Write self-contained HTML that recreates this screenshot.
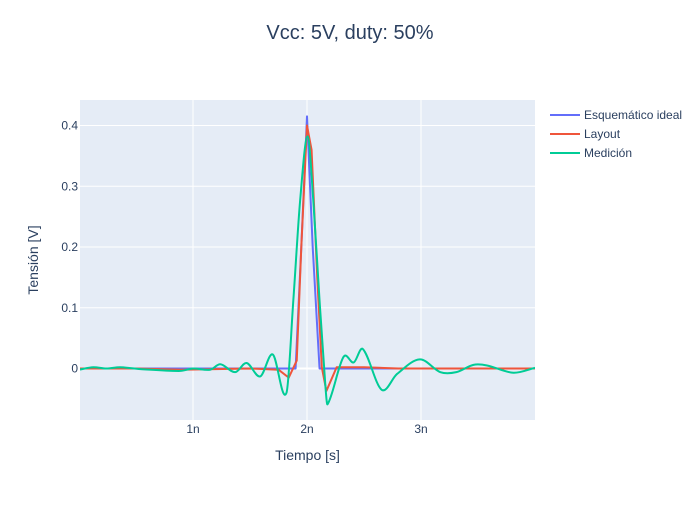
<!DOCTYPE html>
<html><head><meta charset="utf-8"><style>
body{margin:0;background:#fff}
svg{font-family:"Liberation Sans",sans-serif}
</style></head><body>
<svg id="c" width="700" height="500"></svg>
<script>
const tIdeal=[0,1.90,1.95,2.0,2.05,2.11,4.0];
const vIdeal=[0,0,0.2,0.415,0.2,0,0];
const tLayout=[0,0.5,0.89,1.5,1.75,1.84,1.91,1.95,2.0,2.04,2.09,2.13,2.17,2.26,2.5,2.8,4.0];
const vLayout=[0,0,-0.002,0,-0.002,-0.015,0.013,0.2,0.40,0.36,0.15,0.002,-0.037,0.002,0.002,0,0];
const tMeas=[0,0.125,0.24,0.36,0.54,0.89,1.0,1.15,1.24,1.37,1.47,1.59,1.70,1.82,1.88,1.94,2.005,2.055,2.11,2.16,2.18,2.32,2.41,2.49,2.655,2.79,2.99,3.17,3.31,3.46,3.58,3.81,4.0];
const vMeas=[-0.002,0.002,0,0.002,-0.001,-0.004,0,-0.002,0.007,-0.006,0.009,-0.013,0.023,-0.040,0.112,0.277,0.382,0.277,0.112,-0.025,-0.059,0.019,0.010,0.032,-0.035,-0.009,0.015,-0.006,-0.006,0.006,0.005,-0.007,0.001];
const xTicks=[1,2,3], xTickLabels=["1n","2n","3n"];
const yTicks=[0,0.1,0.2,0.3,0.4], yTickLabels=["0","0.1","0.2","0.3","0.4"];
const seriesNames=["Esquemático ideal","Layout","Medición"];
const colors=["#636efa","#EF553B","#00cc96"];

const L=80,R=535,T=100,B=420;
const X=t=>79+t*114;
const Y=v=>368.5-v*607.5;
const svg=document.getElementById('c');
const NS="http://www.w3.org/2000/svg";
function mk(tag,attrs,parent){const e=document.createElementNS(NS,tag);for(const k in attrs)e.setAttribute(k,attrs[k]);(parent||svg).appendChild(e);return e;}
const bg=mk('rect',{x:L,y:T,width:R-L,height:B-T,fill:'#e5ecf6'});


xTicks.forEach((t,i)=>{
 const g=mk('line',{x1:X(t),x2:X(t),y1:T,y2:B,stroke:'#fff','stroke-width':1});
 
 
 const tx=mk('text',{x:X(t),y:433,'text-anchor':'middle','font-size':12,fill:'#2a3f5f'});
 tx.textContent=xTickLabels[i];
 
 
});
yTicks.forEach((v,i)=>{
 const g=mk('line',{x1:L,x2:R,y1:Y(v),y2:Y(v),stroke:'#fff','stroke-width':v===0?2:1});
 
 
 const tx=mk('text',{x:78,y:Y(v)+4,'text-anchor':'end','font-size':12,fill:'#2a3f5f'});
 tx.textContent=yTickLabels[i];
 
 
});
function path(ts,vs,smooth){
 const p=ts.map((t,i)=>[X(t),Y(vs[i])]);
 let d='M'+p[0][0]+','+p[0][1];
 if(!smooth){for(let i=1;i<p.length;i++)d+='L'+p[i][0]+','+p[i][1];return d;}
 const n=p.length,m=[];
 for(let i=0;i<n;i++){
  const a=p[Math.max(0,i-1)],b=p[Math.min(n-1,i+1)];
  m.push((b[1]-a[1])/(b[0]-a[0]));
 }
 for(let i=0;i<n-1;i++){
  const dx=p[i+1][0]-p[i][0];
  d+=`C${p[i][0]+dx/3},${p[i][1]+m[i]*dx/3} ${p[i+1][0]-dx/3},${p[i+1][1]-m[i+1]*dx/3} ${p[i+1][0]},${p[i+1][1]}`;
 }
 return d;
}
const cp=mk('clipPath',{id:'cl'});mk('rect',{x:L,y:T,width:R-L,height:B-T},cp);
const data=[[tIdeal,vIdeal],[tLayout,vLayout],[tMeas,vMeas]];
const names=['series-ideal','series-layout','series-medicion'];
data.forEach((s,i)=>{
 const pth=mk('path',{d:path(s[0],s[1],i===2),fill:'none',stroke:colors[i],'stroke-width':2,'stroke-linejoin':'round','clip-path':'url(#cl)'});
 
 
 const ly=115+i*19;
 const ll=mk('line',{x1:550,x2:580,y1:ly,y2:ly,stroke:colors[i],'stroke-width':2});
 
 
 const lt=mk('text',{x:584,y:ly+4,'font-size':12,fill:'#2a3f5f'});
 lt.textContent=seriesNames[i];
 
 
});
const title=mk('text',{x:350,y:39,'text-anchor':'middle','font-size':20,fill:'#2a3f5f'});
title.textContent='Vcc: 5V, duty: 50%';


const xt=mk('text',{x:307.5,y:460,'text-anchor':'middle','font-size':14,fill:'#2a3f5f'});
xt.textContent='Tiempo [s]';


const yt=mk('text',{x:0,y:0,'text-anchor':'middle','font-size':14,fill:'#2a3f5f',transform:'translate(38,260) rotate(-90)'});
yt.textContent='Tensión [V]';


</script>
</body></html>
